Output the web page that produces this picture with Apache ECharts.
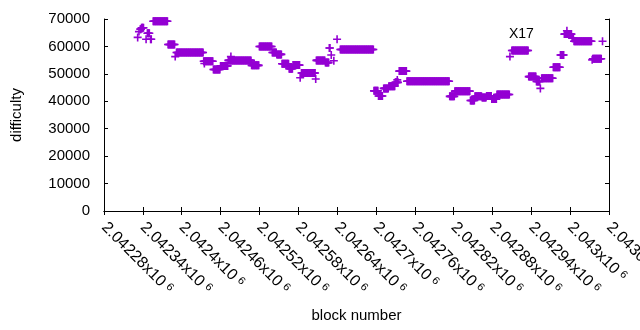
<!DOCTYPE html>
<html>
<head>
<meta charset="utf-8">
<script src="https://cdn.jsdelivr.net/npm/echarts@6/dist/echarts.min.js"></script>
<style>
  html, body { margin: 0; padding: 0; background: #fff; }
  #chart { width: 640px; height: 330px; }
</style>
</head>
<body>
<div id="chart"></div>
<script>
// difficulty per block, kept as runs of equal value (first block, last block, value)
var runStart = [2042332, 2042334, 2042336, 2042338, 2042345, 2042347, 2042352, 2042356, 2042379, 2042390,
                2042392, 2042434, 2042435, 2042449, 2042460, 2042472, 2042476, 2042508, 2042520, 2042540,
                2042547, 2042555, 2042566, 2042572, 2042583, 2042585, 2042607, 2042608, 2042622, 2042628,
                2042631, 2042635, 2042640, 2042645, 2042697, 2042704, 2042712, 2042720, 2042730, 2042733,
                2042736, 2042748, 2042814, 2042822, 2042846, 2042853, 2042864, 2042871, 2042879, 2042887,
                2042907, 2042910, 2042936, 2042948, 2042954, 2042956, 2042974, 2042985, 2042991, 2042995,
                2043003, 2043006, 2043034, 2043035, 2043050];
var runEnd   = [2042332, 2042334, 2042337, 2042341, 2042345, 2042350, 2042353, 2042378, 2042389, 2042390,
                2042433, 2042448, 2042435, 2042459, 2042471, 2042507, 2042476, 2042519, 2042539, 2042546,
                2042554, 2042565, 2042571, 2042582, 2042583, 2042606, 2042607, 2042621, 2042627, 2042629,
                2042631, 2042635, 2042640, 2042696, 2042703, 2042710, 2042719, 2042729, 2042734, 2042733,
                2042747, 2042813, 2042821, 2042845, 2042852, 2042863, 2042870, 2042878, 2042886, 2042906,
                2042907, 2042935, 2042947, 2042953, 2042954, 2042973, 2042984, 2042990, 2043002, 2042995,
                2043005, 2043033, 2043034, 2043048, 2043050];
var runValue = [63300, 65400, 66300, 66800, 62600, 64800, 62600, 69200, 60700, 56300,
                57800, 54600, 53800, 51600, 52900, 54900, 56300, 53100, 60000, 57800,
                57100, 53700, 51900, 53200, 48600, 50300, 48100, 54900, 54100, 59400,
                56900, 54800, 62600, 58900, 43800, 41900, 44700, 45500, 46900, 47800,
                51000, 47300, 41800, 43700, 40300, 41800, 41400, 41900, 40800, 42500,
                56300, 58500, 49000, 47200, 44700, 48400, 52400, 56900, 64500, 65700,
                63000, 61900, 55100, 55500, 61900];

var xMin = 2042280, xMax = 2043060, xStep = 60;
var yMin = 0, yMax = 70000, yStep = 10000;

var points = [];
for (var i = 0; i < runStart.length; i++) {
    for (var b = runStart[i]; b <= runEnd[i]; b++) {
        points.push([b, runValue[i]]);
    }
}

var font = '"Liberation Sans", Arial, sans-serif';
var plus = 'path://M4,0H6V4H10V6H6V10H4V6H0V4H4Z';

var chart = echarts.init(document.getElementById('chart'));
chart.setOption({
    animation: false,
    title: {
        text: 'X17', left: 504, top: 22,
        textStyle: { fontFamily: font, fontSize: 14, fontWeight: 'normal', color: '#000' }
    },
    grid: { left: 104, right: 31, top: 19, bottom: 119, containLabel: false, outerBoundsMode: 'none' },
    xAxis: [{
        type: 'value', min: xMin, max: xMax, interval: xStep,
        name: 'block number', nameLocation: 'middle', nameGap: 97,
        nameTextStyle: { fontFamily: font, fontSize: 15, color: '#000' },
        axisLine: { lineStyle: { color: '#000' } },
        axisTick: { inside: true, length: 4, lineStyle: { color: '#000' } },
        splitLine: { show: false },
        axisLabel: {
            rotate: -45, margin: 14, showMinLabel: true, showMaxLabel: true, hideOverlap: false,
            fontFamily: font, fontSize: 16, color: '#000',
            formatter: function (v) {
                return '{a|' + parseFloat((v / 1e6).toFixed(5)) + 'x10}{s|6}';
            },
            rich: {
                a: { fontFamily: font, fontSize: 16, color: '#000' },
                s: { fontFamily: font, fontSize: 11, color: '#000', verticalAlign: 'top', padding: [0, 0, 0, 4] }
            }
        }
    }, {
        type: 'value', position: 'top', min: xMin, max: xMax, interval: xStep,
        axisLine: { lineStyle: { color: '#000' } },
        axisTick: { inside: true, length: 4, lineStyle: { color: '#000' } },
        axisLabel: { show: false },
        splitLine: { show: false }
    }],
    yAxis: [{
        type: 'value', min: yMin, max: yMax, interval: yStep,
        name: 'difficulty', nameLocation: 'middle', nameGap: 80,
        nameTextStyle: { fontFamily: font, fontSize: 15, color: '#000' },
        axisLine: { show: true, lineStyle: { color: '#000' } },
        axisTick: { show: true, inside: true, length: 4, lineStyle: { color: '#000' } },
        splitLine: { show: false },
        axisLabel: {
            margin: 14, fontFamily: font, fontSize: 15, color: '#000',
            formatter: function (v) { return String(v); }
        }
    }, {
        type: 'value', position: 'right', min: yMin, max: yMax, interval: yStep,
        axisLine: { show: true, lineStyle: { color: '#000' } },
        axisTick: { show: true, inside: true, length: 4, lineStyle: { color: '#000' } },
        axisLabel: { show: false },
        splitLine: { show: false }
    }],
    series: [{
        name: 'X17',
        type: 'scatter',
        xAxisIndex: 0, yAxisIndex: 0,
        symbol: plus,
        symbolSize: 8,
        itemStyle: { color: '#9400d3', opacity: 1 },
        data: points
    }]
});
</script>
</body>
</html>
